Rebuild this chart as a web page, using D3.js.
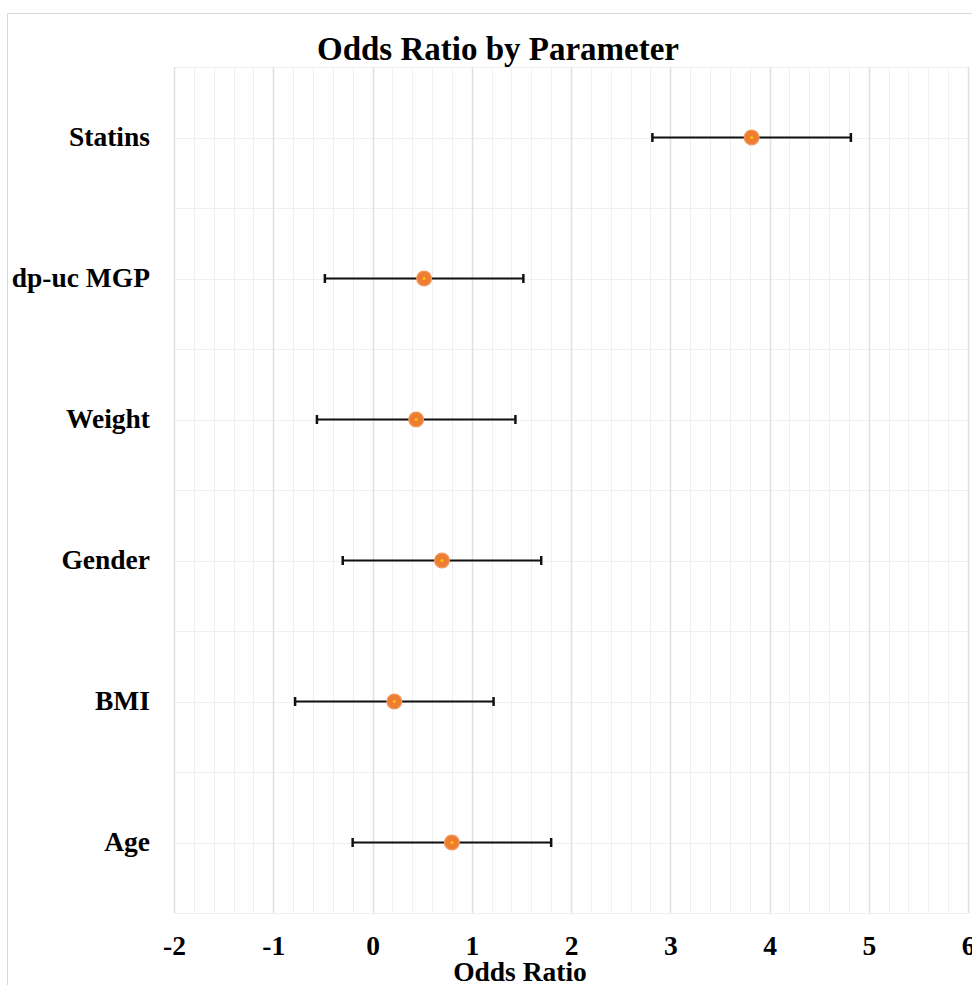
<!DOCTYPE html>
<html>
<head>
<meta charset="utf-8">
<script src="https://cdn.jsdelivr.net/npm/d3@7"></script>
<style>
  html, body { margin: 0; padding: 0; background: #ffffff; overflow: hidden; }
  svg { display: block; }
  text { font-family: "Liberation Serif", "Times New Roman", serif; font-weight: bold; fill: #000; }
</style>
</head>
<body>
<script>
// Parameters and their odds ratios with confidence interval bounds
const categories = ["Statins", "dp-uc MGP", "Weight", "Gender", "BMI", "Age"];
const oddsRatio  = [3.82, 0.52, 0.44, 0.70, 0.22, 0.80];
const lowerCI    = [2.82, -0.48, -0.56, -0.30, -0.78, -0.20];
const upperCI    = [4.82, 1.52, 1.44, 1.70, 1.22, 1.80];
const tickValues = [-2, -1, 0, 1, 2, 3, 4, 5, 6];
const tickLabels = ["-2", "-1", "0", "1", "2", "3", "4", "5", "6"];

const W = 972, H = 985;
const plot = { left: 174, right: 968, top: 67, bottom: 913 };

const svg = d3.select("body").append("svg")
  .attr("width", W).attr("height", H);

// Outer chart frame
svg.append("rect")
  .attr("x", 7.5).attr("y", 13.5)
  .attr("width", 1000).attr("height", 1000)
  .attr("fill", "#fff").attr("stroke", "#d9d9d9").attr("stroke-width", 1);

const x = d3.scaleLinear().domain([-2, 6]).range([plot.left, plot.right]);
const y = d3.scaleBand().domain(categories).range([plot.top, plot.bottom]);

const grid = svg.append("g");

// Minor vertical gridlines every 0.2
const minor = d3.range(-2, 6.0001, 0.2).filter(v => Math.abs(v - Math.round(v)) > 1e-6);
grid.selectAll("line.minor").data(minor).join("line")
  .attr("x1", d => Math.round(x(d)) + 0.5).attr("x2", d => Math.round(x(d)) + 0.5)
  .attr("y1", plot.top).attr("y2", plot.bottom)
  .attr("stroke", "#f0f0f0").attr("stroke-width", 1);

// Horizontal gridlines at band edges and band centres
const hLines = [];
categories.forEach(c => { hLines.push(y(c)); hLines.push(y(c) + y.bandwidth() / 2); });
hLines.push(plot.bottom);
grid.selectAll("line.h").data(hLines).join("line")
  .attr("x1", plot.left).attr("x2", plot.right)
  .attr("y1", d => Math.round(d) + 0.5).attr("y2", d => Math.round(d) + 0.5)
  .attr("stroke", "#f0f0f0").attr("stroke-width", 1.2);

// Major vertical gridlines at integers
grid.selectAll("line.major").data(tickValues).join("line")
  .attr("x1", d => Math.round(x(d)) + 0.5).attr("x2", d => Math.round(x(d)) + 0.5)
  .attr("y1", plot.top).attr("y2", plot.bottom)
  .attr("stroke", "#e0e0e0").attr("stroke-width", 1.5);

// X axis
const xAxis = d3.axisBottom(x)
  .tickValues(tickValues)
  .tickFormat((d, i) => tickLabels[i])
  .tickSize(0).tickPadding(0);
const gx = svg.append("g").attr("transform", `translate(0, ${plot.bottom})`).call(xAxis);
gx.select(".domain").remove();
gx.selectAll("text")
  .attr("dy", null).attr("y", 42)
  .style("font-family", '"Liberation Serif", "Times New Roman", serif')
  .style("font-weight", "bold").style("font-size", "27.5px").attr("fill", "#000");

// Y axis labels
const yAxis = d3.axisLeft(y).tickSize(0).tickPadding(0);
const gy = svg.append("g").attr("transform", `translate(150, 0)`).call(yAxis);
gy.select(".domain").remove();
gy.selectAll("text")
  .style("font-family", '"Liberation Serif", "Times New Roman", serif')
  .style("font-weight", "bold").style("font-size", "27.5px").attr("fill", "#000");

// Error bars
const rows = categories.map((c, i) => ({ c, or: oddsRatio[i], lo: lowerCI[i], hi: upperCI[i] }));
const bars = svg.append("g").selectAll("g").data(rows).join("g")
  .attr("transform", d => `translate(0, ${y(d.c) + y.bandwidth() / 2})`);

bars.append("line")
  .attr("x1", d => x(d.lo)).attr("x2", d => x(d.hi))
  .attr("y1", 0).attr("y2", 0)
  .attr("stroke", "#111").attr("stroke-width", 2.2);
bars.append("line")
  .attr("x1", d => x(d.lo)).attr("x2", d => x(d.lo))
  .attr("y1", -4.5).attr("y2", 4.5)
  .attr("stroke", "#111").attr("stroke-width", 2.5);
bars.append("line")
  .attr("x1", d => x(d.hi)).attr("x2", d => x(d.hi))
  .attr("y1", -4.5).attr("y2", 4.5)
  .attr("stroke", "#111").attr("stroke-width", 2.5);

// Point estimates
bars.append("circle")
  .attr("cx", d => x(d.or)).attr("cy", 0).attr("r", 7.4)
  .attr("fill", "#ED7D31").attr("stroke", "#F19A5E").attr("stroke-width", 1.2);
bars.append("circle")
  .attr("cx", d => x(d.or)).attr("cy", 0).attr("r", 1.6)
  .attr("fill", "#FFC000");

// Titles
svg.append("text")
  .attr("x", 498).attr("y", 60)
  .attr("text-anchor", "middle")
  .style("font-size", "33px")
  .text("Odds Ratio by Parameter");

svg.append("text")
  .attr("x", 520).attr("y", 981)
  .attr("text-anchor", "middle")
  .style("font-size", "27.5px")
  .text("Odds Ratio");
</script>
</body>
</html>
